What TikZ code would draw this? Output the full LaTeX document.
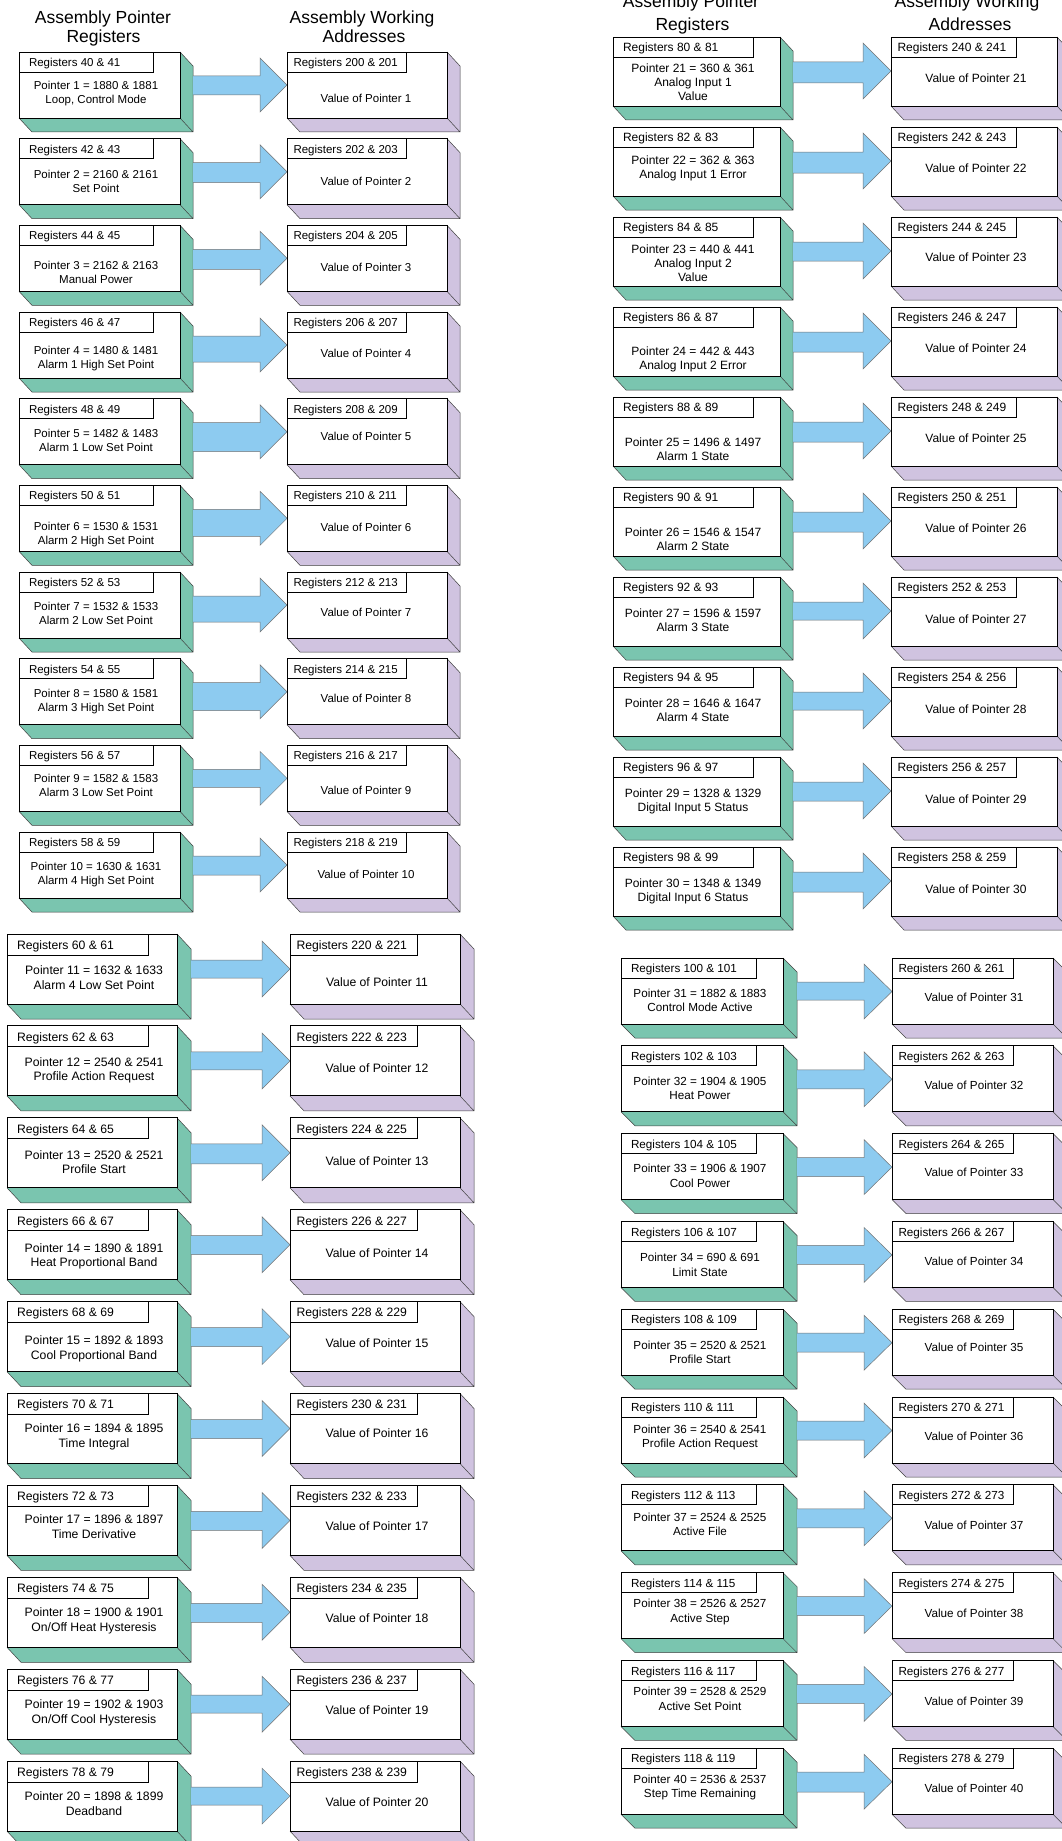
\documentclass[tikz,border=0pt]{standalone}
\usepackage{fontspec}
\setmainfont{Liberation Sans}
\definecolor{grn}{HTML}{7AC5AF}
\definecolor{prp}{HTML}{D0C3E0}
\definecolor{blu}{HTML}{8DCBF0}
\tikzset{
  frontbox/.style={draw=black, line width=0.9pt, fill=white, inner sep=0pt, outer sep=0pt, anchor=north west},
  sideline/.style={draw=black!75, line width=0.5pt},
  txt/.style={inner sep=0pt, outer sep=0pt, font=\fontsize{\qfs pt}{\qfs pt}\selectfont, text height=\qch pt, text depth=0pt},
  blockarrow/.style={fill=blu, draw=black!55, line width=0.5pt, line join=miter},
  hdr/.style={inner sep=0pt, outer sep=0pt, font=\fontsize{17.5pt}{17.5pt}\selectfont, text height=12.5pt, text depth=0pt},
}
\newcommand\blk[8]{%
  \pgfmathsetmacro\qT{\qTz+(#1-\qid)*\qstep}%
  \pgfmathsetmacro\qB{\qT+\qFH}%
  \pgfmathsetmacro\qLW{\qLb-\qLa}%
  \pgfmathsetmacro\qRW{\qRb-\qRa}%
  \pgfmathsetmacro\qLTW{\qLt-\qLa}%
  \pgfmathsetmacro\qRTW{\qRt-\qRa}%
  % left box
  \fill[grn] (\qLa,\qB) -- (\qLb,\qB) -- (\qLb,\qT) -- (\qLb+\qDX,\qT+\qDY) -- (\qLb+\qDX,\qB+\qDY) -- (\qLa+\qDX,\qB+\qDY) -- cycle;
  \draw[sideline] (\qLb,\qT) -- (\qLb+\qDX,\qT+\qDY) -- (\qLb+\qDX,\qB+\qDY) -- (\qLa+\qDX,\qB+\qDY) -- (\qLa,\qB) (\qLb,\qB) -- (\qLb+\qDX,\qB+\qDY);
  \node[frontbox, minimum width=\qLW pt, minimum height=\qFH pt] (L#1) at (\qLa,\qT) {};
  \node[frontbox, minimum width=\qLTW pt, minimum height=\qTH pt] (LT#1) at (\qLa,\qT) {};
  \node[txt, anchor=west] (LTt#1) at (\qLa+10,\qT+\qTH/2+0.5) {Registers #2};
  \node[txt] (La#1) at (\qLTX,\qT+#6) {#4};
  \node[txt] (Lb#1) at (\qLTX,\qT+#6+\qls) {#5};
  % block arrow
  \filldraw[blockarrow] (\qLb+\qDX,\qT+\qST) -- (\qAB,\qT+\qST) -- (\qAB,\qT+\qHT) -- (\qRa,\qT+\qHT/2+\qHB/2) -- (\qAB,\qT+\qHB) -- (\qAB,\qT+#8) -- (\qLb+\qDX,\qT+#8);
  % right box
  \fill[prp] (\qRa,\qB) -- (\qRb,\qB) -- (\qRb,\qT) -- (\qRb+\qDX,\qT+\qDY) -- (\qRb+\qDX,\qB+\qDY) -- (\qRa+\qDX,\qB+\qDY) -- cycle;
  \draw[sideline] (\qRb,\qT) -- (\qRb+\qDX,\qT+\qDY) -- (\qRb+\qDX,\qB+\qDY) -- (\qRa+\qDX,\qB+\qDY) -- (\qRa,\qB) (\qRb,\qB) -- (\qRb+\qDX,\qB+\qDY);
  \node[frontbox, minimum width=\qRW pt, minimum height=\qFH pt] (R#1) at (\qRa,\qT) {};
  \node[frontbox, minimum width=\qRTW pt, minimum height=\qTH pt] (RT#1) at (\qRa,\qT) {};
  \node[txt, anchor=west] (RTt#1) at (\qRa+6.5,\qT+\qTH/2+0.5) {Registers #3};
  \node[txt] (V#1) at (\qVX,\qT+#7) {Value of Pointer #1};
}
\begin{document}
\begin{tikzpicture}[x=1pt,y=-1pt]
\useasboundingbox (0,0) rectangle (1062,1841);
\fill[white] (0,0) rectangle (1062,1841);
% headers
\node[hdr] (h1a) at (103,17) {Assembly Pointer};
\node[hdr] (h1b) at (103.5,36) {Registers};
\node[hdr] (h2a) at (362,17) {Assembly Working};
\node[hdr] (h2b) at (364,36) {Addresses};
\node[hdr] (h3a) at (691,1) {Assembly Pointer};
\node[hdr] (h3b) at (692.5,24) {Registers};
\node[hdr] (h4a) at (967,1) {Assembly Working};
\node[hdr] (h4b) at (970,24) {Addresses};
% ---------- left column, top
\def\qTz{52}\def\qid{1}\def\qstep{86.67}
\def\qLa{19}\def\qLb{180}\def\qLt{153}
\def\qRa{287}\def\qRb{447}\def\qRt{406}
\def\qFH{66}\def\qDX{13}\def\qDY{14}\def\qTH{20}
\def\qAB{260}\def\qST{24}\def\qHT{6}\def\qHB{60}
\def\qLTX{96}\def\qVX{366}
\def\qfs{11.5}\def\qch{8.2}\def\qls{14}
\blk{1}{40 \& 41}{200 \& 201}{Pointer 1 = 1880 \& 1881}{Loop, Control Mode}{33}{46}{43}
\blk{2}{42 \& 43}{202 \& 203}{Pointer 2 = 2160 \& 2161}{Set Point}{36}{43}{44}
\blk{3}{44 \& 45}{204 \& 205}{Pointer 3 = 2162 \& 2163}{Manual Power}{40}{42}{44}
\blk{4}{46 \& 47}{206 \& 207}{Pointer 4 = 1480 \& 1481}{Alarm 1 High Set Point}{38}{41}{50}
\blk{5}{48 \& 49}{208 \& 209}{Pointer 5 = 1482 \& 1483}{Alarm 1 Low Set Point}{35}{38}{53}
\blk{6}{50 \& 51}{210 \& 211}{Pointer 6 = 1530 \& 1531}{Alarm 2 High Set Point}{41}{42}{51}
\blk{7}{52 \& 53}{212 \& 213}{Pointer 7 = 1532 \& 1533}{Alarm 2 Low Set Point}{34}{40}{50}
\blk{8}{54 \& 55}{214 \& 215}{Pointer 8 = 1580 \& 1581}{Alarm 3 High Set Point}{35}{40}{52}
\blk{9}{56 \& 57}{216 \& 217}{Pointer 9 = 1582 \& 1583}{Alarm 3 Low Set Point}{33}{45}{42}
\blk{10}{58 \& 59}{218 \& 219}{Pointer 10 = 1630 \& 1631}{Alarm 4 High Set Point}{34}{42}{43}
% ---------- left column, bottom
\def\qTz{934}\def\qid{11}\def\qstep{91.9}
\def\qLa{7}\def\qLb{177}\def\qLt{148}
\def\qRa{290}\def\qRb{460}\def\qRt{417}
\def\qFH{70}\def\qDX{14}\def\qDY{15}\def\qTH{21}
\def\qAB{262}\def\qST{26}\def\qHT{7}\def\qHB{63}
\def\qLTX{94}\def\qVX{377}
\def\qfs{12.2}\def\qch{8.7}\def\qls{14.7}
\blk{11}{60 \& 61}{220 \& 221}{Pointer 11 = 1632 \& 1633}{Alarm 4 Low Set Point}{36}{48}{44}
\blk{12}{62 \& 63}{222 \& 223}{Pointer 12 = 2540 \& 2541}{Profile Action Request}{36}{42}{44}
\blk{13}{64 \& 65}{224 \& 225}{Pointer 13 = 2520 \& 2521}{Profile Start}{37}{43}{46}
\blk{14}{66 \& 67}{226 \& 227}{Pointer 14 = 1890 \& 1891}{Heat Proportional Band}{38}{43}{45}
\blk{15}{68 \& 69}{228 \& 229}{Pointer 15 = 1892 \& 1893}{Cool Proportional Band}{39}{42}{45}
\blk{16}{70 \& 71}{230 \& 231}{Pointer 16 = 1894 \& 1895}{Time Integral}{35}{40}{45}
\blk{17}{72 \& 73}{232 \& 233}{Pointer 17 = 1896 \& 1897}{Time Derivative}{34}{41}{45}
\blk{18}{74 \& 75}{234 \& 235}{Pointer 18 = 1900 \& 1901}{On/Off Heat Hysteresis}{35}{41}{45}
\blk{19}{76 \& 77}{236 \& 237}{Pointer 19 = 1902 \& 1903}{On/Off Cool Hysteresis}{35}{41}{44}
\blk{20}{78 \& 79}{238 \& 239}{Pointer 20 = 1898 \& 1899}{Deadband}{35}{41}{44}
% ---------- right column, top
\def\qTz{37}\def\qid{21}\def\qstep{90}
\def\qLa{613}\def\qLb{780}\def\qLt{753}
\def\qRa{891}\def\qRb{1057}\def\qRt{1016}
\def\qFH{69}\def\qDX{13}\def\qDY{14}\def\qTH{20}
\def\qAB{863}\def\qST{25}\def\qHT{6}\def\qHB{62}
\def\qLTX{693}\def\qVX{976}
\def\qfs{12}\def\qch{8.6}\def\qls{14.2}
\blk{21}{80 \& 81}{240 \& 241}{Pointer 21 = 360 \& 361}{Analog Input 1}{31}{41}{46}
\node[txt] (Lc21) at (\qLTX,\qT+31+2*\qls) {Value};
\blk{22}{82 \& 83}{242 \& 243}{Pointer 22 = 362 \& 363}{Analog Input 1 Error}{33}{41}{46}
\blk{23}{84 \& 85}{244 \& 245}{Pointer 23 = 440 \& 441}{Analog Input 2}{32}{40}{44}
\node[txt] (Lc23) at (\qLTX,\qT+32+2*\qls) {Value};
\blk{24}{86 \& 87}{246 \& 247}{Pointer 24 = 442 \& 443}{Analog Input 2 Error}{44}{41}{45}
\blk{25}{88 \& 89}{248 \& 249}{Pointer 25 = 1496 \& 1497}{Alarm 1 State}{45}{41}{45}
\blk{26}{90 \& 91}{250 \& 251}{Pointer 26 = 1546 \& 1547}{Alarm 2 State}{45}{41}{45}
\blk{27}{92 \& 93}{252 \& 253}{Pointer 27 = 1596 \& 1597}{Alarm 3 State}{36}{42}{43}
\blk{28}{94 \& 95}{254 \& 256}{Pointer 28 = 1646 \& 1647}{Alarm 4 State}{36}{42}{43}
\blk{29}{96 \& 97}{256 \& 257}{Pointer 29 = 1328 \& 1329}{Digital Input 5 Status}{36}{42}{44}
\blk{30}{98 \& 99}{258 \& 259}{Pointer 30 = 1348 \& 1349}{Digital Input 6 Status}{36}{42}{45}
% ---------- right column, bottom
\def\qTz{958}\def\qid{31}\def\qstep{87.8}
\def\qLa{621}\def\qLb{783}\def\qLt{756}
\def\qRa{892}\def\qRb{1053}\def\qRt{1013}
\def\qFH{66}\def\qDX{14}\def\qDY{14}\def\qTH{20}
\def\qAB{864}\def\qST{24}\def\qHT{6}\def\qHB{61}
\def\qLTX{700}\def\qVX{974}
\def\qfs{11.7}\def\qch{8.4}\def\qls{14.5}
\blk{31}{100 \& 101}{260 \& 261}{Pointer 31 = 1882 \& 1883}{Control Mode Active}{35}{39}{42}
\blk{32}{102 \& 103}{262 \& 263}{Pointer 32 = 1904 \& 1905}{Heat Power}{35}{39}{43}
\blk{33}{104 \& 105}{264 \& 265}{Pointer 33 = 1906 \& 1907}{Cool Power}{35}{39}{43}
\blk{34}{106 \& 107}{266 \& 267}{Pointer 34 = 690 \& 691}{Limit State}{36}{40}{43}
\blk{35}{108 \& 109}{268 \& 269}{Pointer 35 = 2520 \& 2521}{Profile Start}{36}{38}{43}
\blk{36}{110 \& 111}{270 \& 271}{Pointer 36 = 2540 \& 2541}{Profile Action Request}{32}{39}{43}
\blk{37}{112 \& 113}{272 \& 273}{Pointer 37 = 2524 \& 2525}{Active File}{32}{40}{43}
\blk{38}{114 \& 115}{274 \& 275}{Pointer 38 = 2526 \& 2527}{Active Step}{31}{41}{43}
\blk{39}{116 \& 117}{276 \& 277}{Pointer 39 = 2528 \& 2529}{Active Set Point}{31}{41}{43}
\blk{40}{118 \& 119}{278 \& 279}{Pointer 40 = 2536 \& 2537}{Step Time Remaining}{31}{40}{44}
\end{tikzpicture}
\end{document}
